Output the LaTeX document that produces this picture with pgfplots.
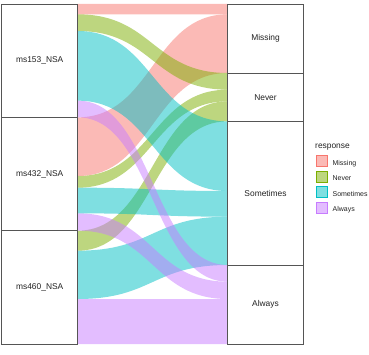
\documentclass[border=0pt]{standalone}
\usepackage{pgfplots}
\pgfplotsset{compat=1.18}
\usepackage{fontspec}
\setmainfont{Liberation Sans}
\definecolor{cMiss}{HTML}{F8766D}
\definecolor{cNever}{HTML}{7CAE00}
\definecolor{cSome}{HTML}{00BFC4}
\definecolor{cAlw}{HTML}{C77CFF}
\definecolor{boxc}{HTML}{555555}
\definecolor{txtc}{HTML}{222222}
% flow: colour, left top, left bottom, right top, right bottom
\newcommand{\flow}[5]{\fill[#1, fill opacity=0.5] (axis cs:77.7,#2) .. controls (axis cs:152.7,#2) and (axis cs:152.7,#4) .. (axis cs:227.7,#4) -- (axis cs:227.7,#5) .. controls (axis cs:152.7,#5) and (axis cs:152.7,#3) .. (axis cs:77.7,#3) -- cycle;}
\begin{document}
\begin{tikzpicture}
\useasboundingbox (0,0) rectangle (369pt,354pt);
\begin{axis}[at={(0pt,10pt)}, anchor=south west, scale only axis,
  width=305pt, height=340pt, xmin=0, xmax=305, ymin=0, ymax=1020,
  hide axis, clip=false, ybar stacked, bar width=76,
  legend style={at={(axis cs:316,567)}, anchor=north west, draw=none, fill=none,
    inner sep=0pt, font=\fontsize{7}{8}\selectfont, row sep=2pt,
    /tikz/every odd column/.append style={column sep=3pt}, text=txtc},
  legend cell align=left]
% strata (survey at x=39.7, response at x=265.5)
\addplot[fill=white, draw=boxc, line width=0.6pt, forget plot] coordinates {(39.7,340) (265.5,237)};
\addplot[fill=white, draw=boxc, line width=0.6pt, forget plot] coordinates {(39.7,340) (265.5,431)};
\addplot[fill=white, draw=boxc, line width=0.6pt, forget plot] coordinates {(39.7,340) (265.5,145)};
\addplot[fill=white, draw=boxc, line width=0.6pt, forget plot] coordinates {(39.7,0) (265.5,207)};
% flows
\flow{cSome}{939}{730}{668}{459}
\flow{cNever}{989}{939}{813}{763}
\flow{cMiss}{1020}{989}{1020}{989}
\flow{cAlw}{730}{680}{237}{187}
\flow{cMiss}{680}{504}{989}{813}
\flow{cNever}{504}{469}{763}{728}
\flow{cSome}{469}{392}{459}{382}
\flow{cAlw}{392}{340}{187}{135}
\flow{cNever}{340}{280}{728}{668}
\flow{cSome}{280}{135}{382}{237}
\flow{cAlw}{135}{0}{135}{0}
\node[anchor=west, inner sep=0pt, font=\fontsize{8.4}{10}\selectfont, text=txtc] at (axis cs:315,591) {response};
% legend
\addlegendimage{legend image code/.code={\fill[cMiss, fill opacity=0.5] (0pt,-3pt) rectangle (11pt,8pt);}}
\addlegendentry{Missing}
\addlegendimage{legend image code/.code={\fill[cNever, fill opacity=0.5] (0pt,-3pt) rectangle (11pt,8pt);}}
\addlegendentry{Never}
\addlegendimage{legend image code/.code={\fill[cSome, fill opacity=0.5] (0pt,-3pt) rectangle (11pt,8pt);}}
\addlegendentry{Sometimes}
\addlegendimage{legend image code/.code={\fill[cAlw, fill opacity=0.5] (0pt,-3pt) rectangle (11pt,8pt);}}
\addlegendentry{Always}
\end{axis}
% stratum labels
\begin{scope}[every node/.style={font=\fontsize{8.4}{10}\selectfont, text=txtc}]
\node at (39.7pt,293.3pt) {ms153\_NSA};
\node at (39.7pt,180pt) {ms432\_NSA};
\node at (39.7pt,66.7pt) {ms460\_NSA};
\node at (265.5pt,315.3pt) {Missing};
\node at (265.5pt,256.7pt) {Never};
\node at (265.5pt,160.7pt) {Sometimes};
\node at (265.5pt,49.3pt) {Always};
\end{scope}
\end{tikzpicture}
\end{document}
